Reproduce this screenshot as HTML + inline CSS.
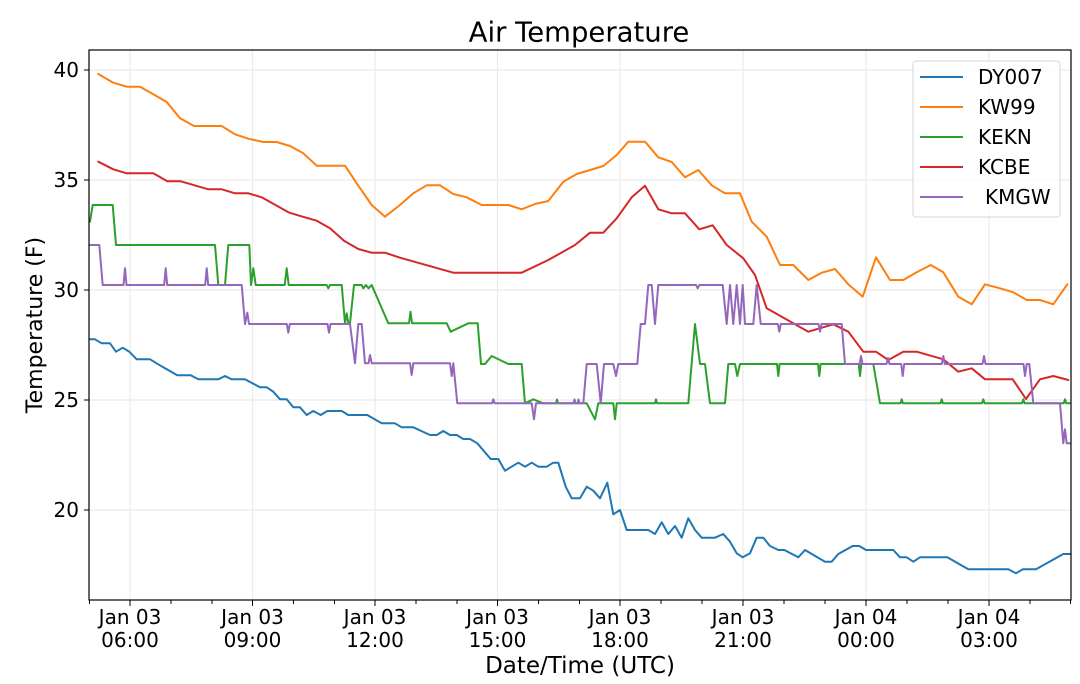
<!DOCTYPE html>
<html><head><meta charset="utf-8"><style>
html,body{margin:0;padding:0;background:#fff;}
svg{display:block;font-family:"DejaVu Sans","Liberation Sans",sans-serif;}
</style></head><body>
<svg width="1080" height="684" viewBox="0 0 1080 684" xmlns="http://www.w3.org/2000/svg">
<rect width="1080" height="684" fill="#fff"/>
<!-- grid -->
<g stroke="#ebebeb" stroke-width="1.2">
<line x1="89" y1="70" x2="1071" y2="70"/>
<line x1="89" y1="180" x2="1071" y2="180"/>
<line x1="89" y1="290" x2="1071" y2="290"/>
<line x1="89" y1="400" x2="1071" y2="400"/>
<line x1="89" y1="510" x2="1071" y2="510"/>
<line x1="130" y1="50" x2="130" y2="600"/>
<line x1="252.5" y1="50" x2="252.5" y2="600"/>
<line x1="375" y1="50" x2="375" y2="600"/>
<line x1="497.5" y1="50" x2="497.5" y2="600"/>
<line x1="620" y1="50" x2="620" y2="600"/>
<line x1="743" y1="50" x2="743" y2="600"/>
<line x1="866" y1="50" x2="866" y2="600"/>
<line x1="989" y1="50" x2="989" y2="600"/>
</g>
<g fill="none" stroke-width="2" stroke-linejoin="round" stroke-linecap="round">
<!-- KW99 -->
<polyline stroke="#ff7f0e" points="98.3,74 113.3,82.7 126.7,86.7 140,86.7 153.3,94.3 166.7,102 180,118.3 194,126 221.7,126 235,134.3 248.3,138.7 263.3,142 276.7,142 290,146 303.3,153.3 316.7,165.7 345,165.7 358.3,185.7 371.7,205 385,216.7 400,205 413.3,193.3 426.7,185.3 440,185.3 453.3,194 466.7,197.3 481.7,205 508.3,205 521.7,209.3 535,204 548.3,201 563.3,181.7 576.7,174 590,170 603.3,166 616.7,155 628.3,141.7 645,141.7 658.3,157.3 671.7,162 685,177.3 698.3,170 711.7,185.3 725,193.3 740,193.3 751.7,221.7 766.7,236.7 780,265 793.3,265 808.3,280 821.7,272.7 835,269 848.3,284.3 862.7,296.7 876,257.3 890,280 903.3,280 916.7,272.3 930.7,265 943.3,272.3 958.3,296.7 971.7,304.3 985,284.3 1000,288.3 1013.3,292.3 1026.7,300 1040,300 1053.3,304.3 1067.3,284.3"/>
<!-- KCBE -->
<polyline stroke="#d62728" points="98.3,161.7 113.3,169.3 126.7,173.3 153.3,173.3 167.3,181.3 180.7,181.3 208.3,189.3 221.7,189.3 235,193.3 248.3,193.3 261.7,197.3 275,204.7 289.3,212.7 302.7,216.7 316.7,220.7 330,228.3 344,240.7 358.3,249 371.7,252.7 385,252.7 400,257.7 453.3,272.7 521.7,272.7 548.3,260 575,245 590,232.7 603.3,232.7 616.7,218.3 631.7,197.3 645,185.7 658.3,209.3 671.7,213.3 685,213.3 699.3,229.3 712.7,225.3 726.7,245 743.3,258.3 755,275 766.7,308.3 808.3,331.7 833.3,324.3 848.3,331.7 863.3,351.7 876,351.7 888.3,360 903.3,351.7 916.7,351.7 943.3,359.3 958.3,371.7 971.7,368.3 985,379.3 1012.7,379.3 1026,399 1040,379.3 1053.3,376 1068.3,380"/>
<!-- KEKN -->
<polyline stroke="#2ca02c" points="90,221.7 92.7,205 112.7,205 116,245 215,245 218.3,285 225,285 228.3,245 249.3,245 251,285 253.3,268.3 255.7,285 284.7,285 286.7,268.3 288.7,285 326.7,285 328.3,288.3 330,285 341.7,285 345,323.3 346.7,313.3 348.3,323.3 350,323.3 354,285 361.7,285 363.3,288.3 366,285 368.5,288.3 371.7,285 388.3,323.3 409,323.3 410.5,311.7 412,323.3 446.7,323.3 450.7,331.7 468.3,323.3 477.7,323.3 481,364 485,364 491.7,356 508.3,364 521.7,364 525,403.3 533.3,399.3 543.3,403.3 556,403.3 557,399.5 558,403.3 581.7,403.3 586.7,403.3 595,419.3 598.3,403.3 613.3,403.3 615,419.3 616.7,403.3 655,403.3 656,399.3 657,403.3 688.3,403.3 695,324 700,364 705,364 710,403.3 725,403.3 728.3,364 735,364 737.3,376 740,364 777,364 778.3,376 779.6,364 818,364 819.3,376 820.6,364 858.7,364 860,376 861.3,364 873.3,364 880,403.3 900.5,403.3 901.7,399.3 903,403.3 940.5,403.3 941.7,399.3 943,403.3 982,403.3 983.3,399.3 984.6,403.3 1022,403.3 1023.3,399.3 1024.6,403.3 1063.7,403.3 1065,399.3 1066.3,403.3 1070,403.3"/>
<!-- KMGW -->
<polyline stroke="#9467bd" points="90,245 99.3,245 102.7,285 123.5,285 125,268.3 126.5,285 164.2,285 165.7,268.3 167.2,285 205.2,285 206.7,268.3 208.2,285 241.7,285 245,324 247.3,312.7 249,324 286.8,324 288.3,332.7 289.8,324 327.5,324 329,332.7 330.5,324 350,324 355,363.3 358.3,324 361.7,324 365,363.3 368.5,363.3 370,355 371.7,363.3 410,363.3 411.7,375 413.3,363.3 450,363.3 451.7,376 453.3,363.3 457.3,403.3 492,403.3 493.3,399.3 494.6,403.3 531.7,403.3 534,419.3 536,403.3 573.5,403.3 574.5,399.5 575.5,403.3 577.5,403.3 578.5,399.5 579.5,403.3 583.3,403.3 586.7,364 596.7,364 600.7,403.3 604,364 613.3,364 616,376 618.3,364 637.3,364 640.7,324 645,324 648.3,285 651.7,285 655,324 658.3,285 696,285 697.7,288.3 699.4,285 722.7,285 726.7,324 730,285 733.3,324 736.7,285 740,324 742.7,285 745,324 753.3,324 756.7,285 760.7,324 777.8,324 779.3,331.7 780.8,324 818.5,324 820,331.7 821.5,324 841.7,324 845,364 859.5,364 861,356 862.5,364 886.5,364 888,358 889.5,364 901.2,364 902.7,376 904.2,364 941.8,364 943.3,356 944.8,364 982.5,364 984,356 985.5,364 1023.5,364 1025,376 1026.7,364 1029.3,364 1033.3,403.3 1060,403.3 1063.3,443.3 1065,429.3 1066.7,443.3 1070,443.3"/>
<!-- DY007 -->
<polyline stroke="#1f77b4" points="89.3,339.3 95,339.3 101.7,343.3 110,343.3 116,351.7 122.7,347.7 129.3,351.7 136.7,359.3 150,359.3 163.3,367.3 177.3,375.3 190.7,375.3 198.3,379.3 218.3,379.3 225,376 231.7,379.3 245,379.3 260,387.3 266.7,387.3 273.3,391.7 280,399.3 286.7,399.3 293.3,407.3 300,407.3 306.7,415 313.3,411 320.7,415 327.3,411 341.7,411 348.3,415 367.3,415 381.7,423.3 395,423.3 401.7,427.3 413.3,427.3 430,435 436.7,435 443.3,431 450,435 456.7,435 463.3,439 470,439 477.3,443.3 490.7,459 498.3,459 505,470.7 518.3,462.7 525,466.7 531.7,462.7 538.3,466.7 546.7,466.7 553.3,462.7 558.3,462.7 565.7,486.7 571.7,498.3 580,498.3 586.7,486.7 593.3,490.7 600,498.3 607.3,482.7 613.3,514.3 620,510 626.7,530 648.3,530 655,534 661.7,522.3 668.3,534 675,526 681.7,537.7 688.3,518.3 695,530 701.7,537.7 715,537.7 723.3,534 730,541.7 736.7,553.3 742.7,557.3 750,553.3 756.7,537.7 763.3,537.7 770,546 778.3,550 784.3,550 798.3,557.3 805,550 825,561.7 831.7,561.7 838.3,554 852.7,546 859.3,546 866,550 893.3,550 900,557.3 906.7,557.3 913.3,561.7 920,557.3 947.3,557.3 968.3,569.3 1008.3,569.3 1016,573.3 1022.7,569.3 1036,569.3 1063.3,554 1070.7,554"/>
</g>
<!-- axes frame -->
<rect x="89" y="50" width="982" height="550" fill="none" stroke="#000" stroke-width="1.2"/>
<!-- y ticks -->
<g stroke="#000" stroke-width="1">
<line x1="84" y1="70" x2="89" y2="70"/>
<line x1="84" y1="180" x2="89" y2="180"/>
<line x1="84" y1="290" x2="89" y2="290"/>
<line x1="84" y1="400" x2="89" y2="400"/>
<line x1="84" y1="510" x2="89" y2="510"/>
</g>
<g font-size="20" text-anchor="end" fill="#000">
<text x="79" y="77">40</text>
<text x="79" y="187">35</text>
<text x="79" y="297">30</text>
<text x="79" y="407">25</text>
<text x="79" y="517">20</text>
</g>
<!-- x ticks -->
<g stroke="#000" stroke-width="1">
<line x1="89.5" y1="600" x2="89.5" y2="604"/>
<line x1="130" y1="600" x2="130" y2="606"/>
<line x1="171" y1="600" x2="171" y2="604"/>
<line x1="212" y1="600" x2="212" y2="604"/>
<line x1="252.5" y1="600" x2="252.5" y2="606"/>
<line x1="293.5" y1="600" x2="293.5" y2="604"/>
<line x1="334.5" y1="600" x2="334.5" y2="604"/>
<line x1="375" y1="600" x2="375" y2="606"/>
<line x1="416" y1="600" x2="416" y2="604"/>
<line x1="457" y1="600" x2="457" y2="604"/>
<line x1="497.5" y1="600" x2="497.5" y2="606"/>
<line x1="538.5" y1="600" x2="538.5" y2="604"/>
<line x1="579.5" y1="600" x2="579.5" y2="604"/>
<line x1="620" y1="600" x2="620" y2="606"/>
<line x1="661" y1="600" x2="661" y2="604"/>
<line x1="702" y1="600" x2="702" y2="604"/>
<line x1="743" y1="600" x2="743" y2="606"/>
<line x1="784" y1="600" x2="784" y2="604"/>
<line x1="825" y1="600" x2="825" y2="604"/>
<line x1="866" y1="600" x2="866" y2="606"/>
<line x1="907" y1="600" x2="907" y2="604"/>
<line x1="948" y1="600" x2="948" y2="604"/>
<line x1="989" y1="600" x2="989" y2="606"/>
<line x1="1030" y1="600" x2="1030" y2="604"/>
<line x1="1070.5" y1="600" x2="1070.5" y2="604"/>
</g>
<g font-size="20" text-anchor="middle" fill="#000">
<text x="130" y="624">Jan 03</text><text x="130" y="647">06:00</text>
<text x="252.5" y="624">Jan 03</text><text x="252.5" y="647">09:00</text>
<text x="375" y="624">Jan 03</text><text x="375" y="647">12:00</text>
<text x="497.5" y="624">Jan 03</text><text x="497.5" y="647">15:00</text>
<text x="620" y="624">Jan 03</text><text x="620" y="647">18:00</text>
<text x="743" y="624">Jan 03</text><text x="743" y="647">21:00</text>
<text x="866" y="624">Jan 04</text><text x="866" y="647">00:00</text>
<text x="989" y="624">Jan 04</text><text x="989" y="647">03:00</text>
</g>
<!-- axis labels -->
<text x="580" y="673" font-size="23" text-anchor="middle">Date/Time (UTC)</text>
<text transform="translate(42,325) rotate(-90)" font-size="22" text-anchor="middle">Temperature (F)</text>
<!-- title -->
<text x="579" y="41.5" font-size="27.5" text-anchor="middle">Air Temperature</text>
<!-- legend -->
<rect x="913" y="61" width="147" height="156" rx="3" ry="3" fill="#fff" fill-opacity="0.8" stroke="#d6d6d6" stroke-width="1"/>
<g stroke-width="2">
<line x1="920" y1="77" x2="963" y2="77" stroke="#1f77b4"/>
<line x1="920" y1="107" x2="963" y2="107" stroke="#ff7f0e"/>
<line x1="920" y1="137" x2="963" y2="137" stroke="#2ca02c"/>
<line x1="920" y1="167" x2="963" y2="167" stroke="#d62728"/>
<line x1="920" y1="197" x2="963" y2="197" stroke="#9467bd"/>
</g>
<g font-size="20" fill="#000">
<text x="978" y="84">DY007</text>
<text x="978" y="114">KW99</text>
<text x="978" y="144">KEKN</text>
<text x="978" y="174">KCBE</text>
<text x="985" y="204">KMGW</text>
</g>
</svg>
</body></html>
